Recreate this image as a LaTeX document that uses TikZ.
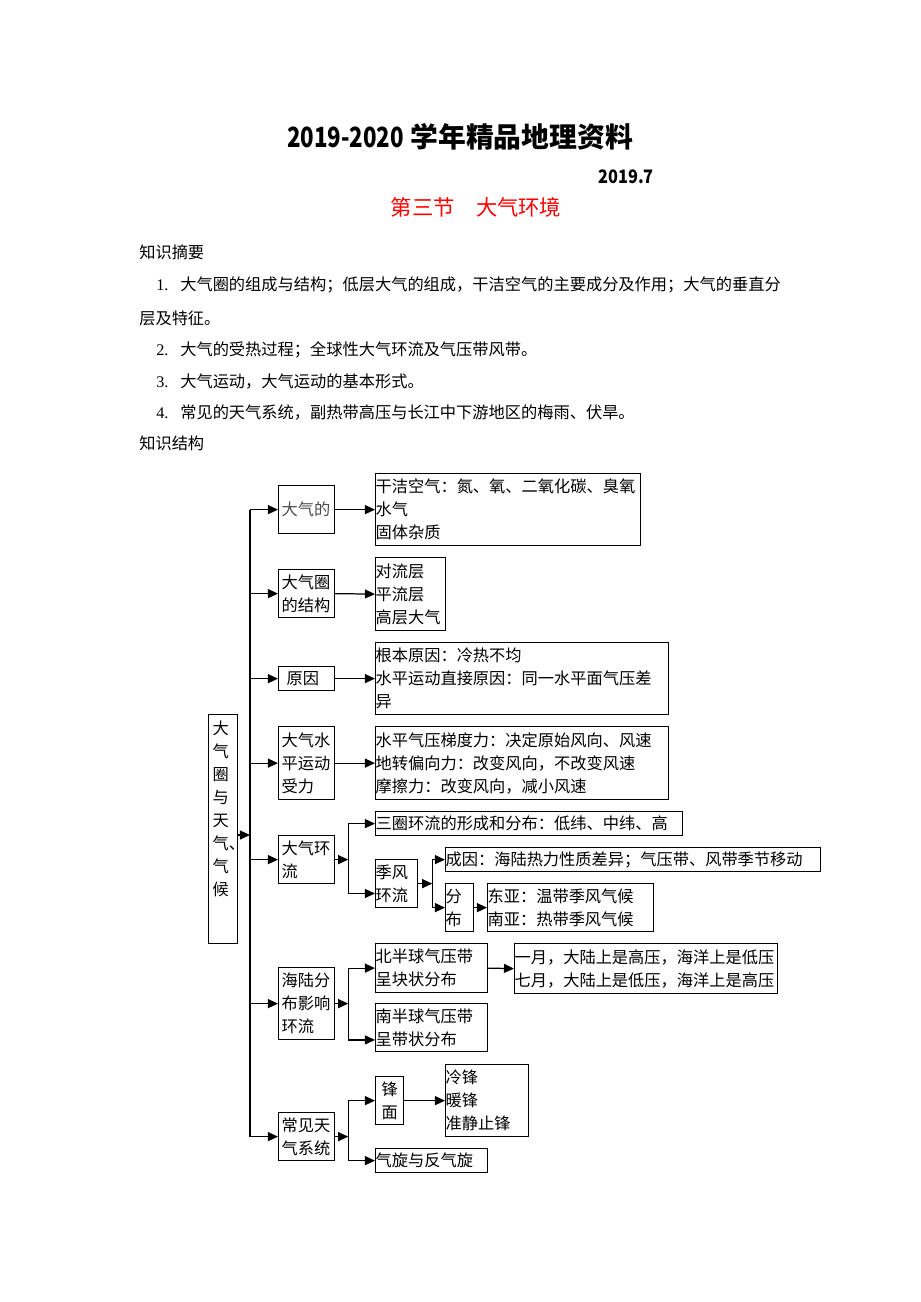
\documentclass[tikz,border=0pt]{standalone}
\usepackage{fontspec}
\setmainfont{Noto Sans CJK SC}
\newfontfamily\lat{Liberation Serif}
\usepackage{xcolor}
\usepackage{graphicx}
\usetikzlibrary{calc}
\usetikzlibrary{arrows.meta}
\newdimen\pxl \pxl=0.647pt
\newcommand{\dtext}{\fontsize{10.5}{14.9}\selectfont}
\newcommand{\nomor}[1]{\makebox[24\pxl][l]{\lat #1}}

\begin{document}
\begin{tikzpicture}[x=0.647pt, y=-0.647pt,
    knot/.style 2 args={draw, line width=0.8pt, anchor=north west, inner sep=0pt,
      minimum width=#1\pxl, minimum height=#2\pxl, text width=#1\pxl, align=left, font=\dtext},
    topik/.style={knot={56}{#1}, text width=50\pxl},
    panah/.style={line width=0.8pt, -{Triangle[length=6.5pt, width=5.8pt]}},
    teks/.style={anchor=west, inner sep=0pt, font=\dtext}]
        \useasboundingbox (0,0) rectangle (920,1302);
        %GRID
        %\draw[lightgray] (0,0) grid[step=50] (920,1302);
        %JUDUL
        \node[font=\fontsize{18}{18}\selectfont\bfseries] (title) at (460,137) {\scalebox{0.8}[1]{2019-2020} 学年精品地理资料};
        \node[font=\fontsize{12}{12}\selectfont\bfseries] (date) at (626,177) {\scalebox{0.88}[1]{2019.7}};
        \node[font=\fontsize{13.8}{13.8}\selectfont, text=red] (sec) at (476,207) {第三节\quad 大气环境};
        %TEKS
        \node[teks] (sum) at (139,252) {知识摘要};
        \node[teks] (item1) at (156,285) {\nomor{1.}大气圈的组成与结构；低层大气的组成，干洁空气的主要成分及作用；大气的垂直分};
        \node[teks] (item1b) at (139,318) {层及特征。};
        \node[teks] (item2) at (156,350) {\nomor{2.}大气的受热过程；全球性大气环流及气压带风带。};
        \node[teks] (item3) at (156,382) {\nomor{3.}大气运动，大气运动的基本形式。};
        \node[teks] (item4) at (156,413) {\nomor{4.}常见的天气系统，副热带高压与长江中下游地区的梅雨、伏旱。};
        \node[teks] (struct) at (139,443) {知识结构};
        %KOTAK
        \node[draw, line width=0.8pt, anchor=north west, inner sep=0pt, font=\dtext] (main) at (208,714)
            {\parbox[c][229\pxl][t]{29\pxl}{\vspace*{6\pxl}\leftskip=4\pxl 大\\气\\圈\\与\\天\\\makebox[16\pxl][l]{气、}\\气\\候}};
        \node[topik=48, text=black!70] (a1) at (278,485) {大气的};
        \node[topik=48] (a2) at (278,569) {大气圈\\的结构};
        \node[topik=24] (a3) at (278,666) {\hspace*{5\pxl}原因};
        \node[topik=73] (a4) at (278,726) {大气水\\平运动\\受力};
        \node[topik=48] (a5) at (278,835) {大气环\\流};
        \node[topik=72] (a6) at (278,967) {海陆分\\布影响\\环流};
        \node[topik=48] (a7) at (278,1112) {常见天\\气系统};
        \node[knot={265}{72}] (b1) at (375,473) {干洁空气：氮、氧、二氧化碳、臭氧\\水气\\固体杂质};
        \node[knot={70}{73}] (b2) at (375,557) {对流层\\平流层\\高层大气};
        \node[knot={293}{72}] (b3) at (375,642) {根本原因：冷热不均\\水平运动直接原因：同一水平面气压差\\异};
        \node[knot={293}{73}] (b4) at (375,726) {水平气压梯度力：决定原始风向、风速\\地转偏向力：改变风向，不改变风速\\摩擦力：改变风向，减小风速};
        \node[knot={307}{24}] (b5) at (375,811) {三圈环流的形成和分布：低纬、中纬、高};
        \node[knot={42}{48}] (b6) at (375,859) {季风\\环流};
        \node[knot={375}{24}] (b7) at (445,847) {成因：海陆热力性质差异；气压带、风带季节移动};
        \node[knot={28}{48}] (b8) at (445,883) {分\\布};
        \node[knot={166}{48}] (b9) at (487,883) {东亚：温带季风气候\\南亚：热带季风气候};
        \node[knot={112}{49}] (b10) at (375,943) {北半球气压带\\呈块状分布};
        \node[knot={112}{48}] (b11) at (375,1003) {南半球气压带\\呈带状分布};
        \node[knot={263}{50}] (b12) at (514,943) {一月，大陆上是高压，海洋上是低压\\七月，大陆上是低压，海洋上是高压};
        \node[knot={28}{48}, align=center] (b13) at (375,1076) {锋\\面};
        \node[knot={83}{72}] (b14) at (445,1064) {冷锋\\暖锋\\准静止锋};
        \node[knot={112}{24}] (b15) at (375,1148) {气旋与反气旋};
        %KOORDINAT
        \coordinate (T) at (250,835);
        \coordinate (P) at ($(a5.east)+(13,0)$);
        \coordinate (Q) at ($(b6.south west)!0.3!(b6.north west)$);
        \coordinate (R) at ($(b6.east)+(14,0)$);
        \coordinate (S) at ($(a6.east)+(13,0)$);
        \coordinate (U) at ($(b11.south west)!0.25!(b11.north west)$);
        \coordinate (V) at ($(a7.east)+(13,0)$);
        %PANAH
        \draw[panah] (main.east |- T) -- (T);
        \draw[line width=0.8pt] (a1.west -| T) -- (a7.west -| T);
        \foreach \k in {1,...,7} \draw[panah] (a\k.west -| T) -- (a\k.west);
        \foreach \k in {1,...,4} \draw[panah] (a\k.east) -- (b\k.west);
        \draw[panah] (a5.east) -- (P);
        \draw[panah] (P) |- (b5.west);
        \draw[panah] (P) |- (Q);
        \draw[panah] (b6.east) -- (R);
        \draw[panah] (R) |- (b7.west);
        \draw[panah] (R) |- (b8.west);
        \draw[panah] (b8.east) -- (b9.west);
        \draw[panah] (a6.east) -- (S);
        \draw[panah] (S) |- (b10.west);
        \draw[panah] (S) |- (U);
        \draw[panah] (b10.east) -- (b12.west);
        \draw[panah] (a7.east) -- (V);
        \draw[panah] (V) |- (b13.west);
        \draw[panah] (V) |- (b15.west);
        \draw[panah] (b13.east) -- (b14.west);
    \end{tikzpicture}
\end{document}
